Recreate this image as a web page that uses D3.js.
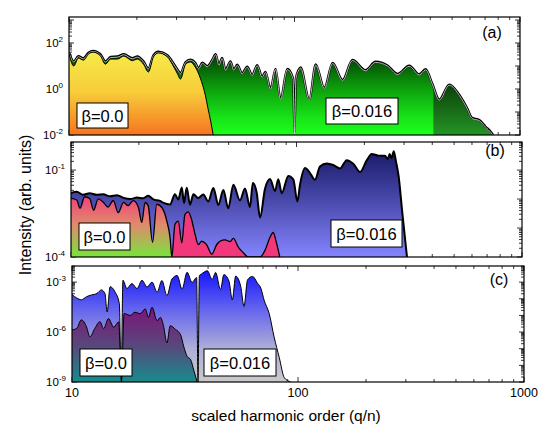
<!DOCTYPE html>
<html>
<head>
<meta charset="utf-8">
<script src="https://cdnjs.cloudflare.com/ajax/libs/d3/7.8.5/d3.min.js"></script>
<style>
body { margin: 0; background: #fff; }
text { font-family: Arial, "Liberation Sans", sans-serif; fill: #000; }
</style>
</head>
<body>
<svg width="544" height="426"></svg>
<script>
// spectra: [harmonic order, intensity]
var aBeta0 = [[10.0,33],[10.5,10],[11.0,22],[11.6,18],[12.2,33],[12.8,40],[13.8,27],[14.5,12],[15.3,20],[16.4,20],[17.5,27],[19.1,17],[20.1,20],[21.4,12],[22.5,5.5],[23.7,25],[24.9,37],[27.3,25],[28.7,12],[30.3,4.5],[31.2,2.7],[32.9,12],[34.5,15],[36.3,9],[38.2,3],[40.3,0.5],[41.3,0.15],[42.5,0.04],[43.6,0.01]];
var aBeta016 = [[10.0,40],[10.5,16],[11.0,27],[11.6,22],[12.2,38],[12.8,46],[13.8,32],[14.5,16],[15.3,25],[16.4,26],[17.5,33],[19.1,22],[20.1,26],[21.4,16],[22.5,8],[23.7,30],[24.9,42],[27.3,30],[28.7,16],[30.3,7],[31.2,5],[32.9,15],[34.5,19],[36.3,14],[37.6,8],[39.0,14],[41.0,10],[43.2,19],[44.7,33],[46.2,11.6],[47.8,22.5],[49.4,7],[52.0,16],[53.8,6.9],[55.7,11.4],[58.6,4.9],[61.7,9.4],[64.9,4.1],[68.3,11],[71.9,3.4],[74.3,5.6],[78.3,1.04],[82.4,7.6],[86.7,0.37],[92.9,7.5],[98.5,3],[100,0.012],[101.5,3],[104,6.5],[106.4,8.7],[116.3,0.36],[124.2,11.8],[135.6,1.14],[147.6,13.8],[163.4,2.5],[180.7,18.6],[206.5,6.7],[228.6,15.4],[258.4,10.7],[286.1,4.6],[322.7,10.4],[357.4,4.4],[381.2,7.3],[409.6,1.6],[438.5,0.35],[485.8,1.57],[537.6,0.57],[582.6,0.15],[612.6,0.056],[660,0.045],[704,0.023],[741.5,0.014],[760,0.01]];
var aCut = 413;

var bBeta0 = [[10.0,0.0105],[10.6,0.0093],[10.96,0.0048],[11.5,0.012],[12.1,0.0105],[12.6,0.0041],[13.2,0.0102],[13.9,0.0078],[14.6,0.0053],[15.4,0.0089],[16.2,0.0034],[17.1,0.0077],[17.9,0.0059],[18.9,0.0088],[19.9,0.0052],[20.6,0.00156],[21.3,0.0076],[22.0,0.0058],[23.0,0.00032],[24.0,0.0066],[25.3,0.0051],[26.6,0.00175],[27.5,0.00046],[28.0,0.0001],[28.9,0.00133],[29.9,0.00174],[31.0,0.00031],[32.0,0.0029],[33.1,0.0036],[34.3,0.0019],[35.5,0.0006],[36.7,0.00027],[38.0,0.00035],[39.9,0.00027],[42.1,0.000125],[44.3,0.00027],[45.8,0.00035],[48.2,0.00039],[50.8,0.00034],[52.5,0.00044],[55.2,0.00022],[58.1,0.00014],[61.1,0.0001],[68.9,0.0001],[72.5,0.00017],[76.3,0.00048],[78.8,0.0007],[81.4,0.00032],[84.3,0.0001]];
var bBeta016 = [[10.0,0.016],[10.6,0.018],[11.3,0.014],[12.1,0.016],[13.0,0.014],[13.9,0.0145],[14.9,0.0125],[16.0,0.0135],[17.1,0.011],[18.3,0.01],[19.6,0.0112],[20.9,0.0107],[22.0,0.013],[23.2,0.0097],[24.8,0.0086],[25.6,0.0075],[27.5,0.0065],[28.9,0.0146],[29.9,0.0096],[31.0,0.025],[31.7,0.0074],[32.6,0.0245],[33.7,0.0064],[34.9,0.0145],[36.7,0.0108],[38.6,0.0144],[40.6,0.0083],[42.8,0.024],[45.0,0.0063],[47.4,0.0205],[49.8,0.0048],[52.5,0.031],[56.1,0.009],[59.1,0.023],[62.2,0.0053],[64.0,0.036],[66.6,0.0167],[68.9,0.0023],[72.5,0.0225],[76.3,0.049],[80.3,0.019],[83.0,0.048],[86.0,0.016],[92.0,0.063],[96.8,0.048],[100.9,0.0083],[103.7,0.032],[109.1,0.117],[114.8,0.079],[120.8,0.046],[127.1,0.132],[136.1,0.17],[145.6,0.15],[156.0,0.113],[167.0,0.22],[178.6,0.165],[191.3,0.086],[204.8,0.215],[215.5,0.36],[230.6,0.315],[246.8,0.31],[254,0.24],[259,0.36],[264,0.26],[270,0.45],[276,0.2],[284,0.058],[294,0.0039],[303.6,0.00036],[309,0.0001]];
var bCut = 28;

var cBeta0 = [[10.0,1.35e-6],[10.5,1.7e-6],[11.0,5.4e-6],[11.6,2.0e-6],[12.0,5.2e-7],[12.6,1.6e-6],[13.3,4.2e-6],[13.8,1.6e-6],[14.5,6.4e-6],[15.3,1.95e-6],[16.1,4.1e-6],[16.55,1e-9],[17.0,1.3e-5],[18.1,1.0e-5],[19.0,1.55e-5],[20.0,1.26e-5],[21.1,2.45e-5],[21.8,7.7e-6],[22.6,3.1e-5],[23.8,4.8e-6],[24.6,7.6e-6],[25.4,2.4e-6],[26.3,2.2e-7],[27.2,2.4e-6],[28.7,1.45e-6],[30.2,7.2e-7],[31.2,1.4e-7],[32.3,3.5e-8],[33.5,2.2e-8],[34.6,5e-9],[35.8,1e-9]];
var cBeta016 = [[10.0,1.8e-4],[10.5,1.1e-4],[11.0,8.7e-5],[11.6,1.33e-4],[12.2,1.7e-4],[12.9,2.1e-4],[13.5,3.4e-4],[14.0,2e-4],[14.3,1.6e-5],[14.75,5.3e-4],[15.5,2.6e-4],[16.2,5e-5],[16.5,1e-9],[16.8,1.3e-3],[17.5,4.1e-4],[18.4,8.2e-4],[19.4,4.1e-4],[20.4,1.3e-3],[21.5,5.1e-4],[22.6,1.0e-3],[23.8,2.5e-4],[25.0,1.26e-3],[26.3,1.55e-4],[27.7,1.55e-3],[29.2,2.5e-3],[30.7,3.8e-4],[32.3,3.9e-3],[34.0,9.5e-4],[35.6,1.9e-3],[36.1,1e-9],[36.6,2.5e-3],[37.3,3e-3],[39.7,4.8e-3],[41.7,1.45e-3],[43.2,3.8e-3],[45.4,3.6e-4],[47.0,2.85e-3],[49.5,1.15e-3],[51.2,8.6e-5],[53.0,2.3e-3],[55.8,5.5e-4],[57.7,3.5e-5],[59.8,1.37e-3],[62.9,2.2e-3],[66.2,8.6e-4],[68.5,4.3e-4],[70.8,8.2e-5],[74.6,1.26e-5],[78.4,5e-7],[82.6,3e-8],[87.0,1.8e-9],[92.9,1e-9]];

// tick labels
var aExp = [2, 0, -2];
var bExp = [-1, -4];
var cExp = [-3, -6, -9];
var xLabels = [10, 100, 1000];
var betaLabels = ["\u03b2=0.0", "\u03b2=0.016"];
var panelNames = ["(a)", "(b)", "(c)"];

var svg = d3.select("svg"),
    defs = svg.append("defs");

function grad(id, y1, y2, stops) {
  var lg = defs.append("linearGradient").attr("id", id)
      .attr("gradientUnits", "userSpaceOnUse")
      .attr("x1", 0).attr("x2", 0).attr("y1", y1).attr("y2", y2);
  stops.forEach(function(s) {
    lg.append("stop").attr("offset", s[0]).attr("stop-color", s[1]);
  });
}
grad("gYellow", 50, 135, [[0, "#f6ec48"], [0.5, "#f7cc3a"], [1, "#f67420"]]);
grad("gGreen", 48, 135, [[0, "#002800"], [0.45, "#0c9c0c"], [0.8, "#18e418"], [1, "#1cff1c"]]);
grad("gDarkGreen", 75, 132, [[0, "#053005"], [1, "#239023"]]);
grad("gBlue", 148, 257, [[0, "#161668"], [0.45, "#4646a6"], [1, "#8484ff"]]);
grad("gPinkGreen", 192, 257, [[0, "#f2387a"], [0.5, "#e08a6c"], [1, "#78e43c"]]);
grad("gBlueGray", 270, 382, [[0, "#1414ff"], [0.35, "#6464ee"], [0.7, "#aeaed8"], [1, "#cacaca"]]);
grad("gPurple", 310, 382, [[0, "#7a1878"], [0.5, "#58487c"], [1, "#168c8c"]]);

var panels = [
  {id: "a", left: 69, right: 520, top: 17, bottom: 135, ydom: [0.01, 1350], exps: aExp,
   name: panelNames[0], nx: 492, ny: 38,
   boxes: [[77, 103, 51, 25], [326, 98, 72, 26]]},
  {id: "b", left: 71, right: 522, top: 142, bottom: 257, ydom: [1e-4, 0.93], exps: bExp,
   name: panelNames[1], nx: 495, ny: 156,
   boxes: [[79, 223, 51, 27], [331, 220, 71, 27]]},
  {id: "c", left: 72, right: 524, top: 266, bottom: 382, ydom: [1e-9, 0.0093], exps: cExp,
   name: panelNames[2], nx: 499, ny: 285,
   boxes: [[80, 349, 52, 27], [204, 349, 72, 27]]}
];

function isMajor(v) {
  var l = Math.log10(v);
  return Math.abs(l - Math.round(l)) < 1e-6;
}

panels.forEach(function(p) {
  var x = d3.scaleLog().domain([10, 1000]).range([p.left, p.right]);
  var y = d3.scaleLog().domain(p.ydom).range([p.bottom, p.top]);
  p.x = x; p.y = y;

  // inward ticks on all four sides
  var tg = svg.append("g").attr("stroke", "#000").attr("stroke-width", 0.8);
  y.ticks().forEach(function(v) {
    if (v < p.ydom[0] || v > p.ydom[1]) return;
    var len = isMajor(v) ? 5 : 3, yy = y(v);
    tg.append("line").attr("x1", p.left).attr("x2", p.left + len).attr("y1", yy).attr("y2", yy);
    tg.append("line").attr("x1", p.right - len).attr("x2", p.right).attr("y1", yy).attr("y2", yy);
  });
  x.ticks().forEach(function(v) {
    var len = isMajor(v) ? 5 : 3, xx = x(v);
    tg.append("line").attr("x1", xx).attr("x2", xx).attr("y1", p.bottom).attr("y2", p.bottom - len);
    tg.append("line").attr("x1", xx).attr("x2", xx).attr("y1", p.top).attr("y2", p.top + len);
  });

  defs.append("clipPath").attr("id", "clip-" + p.id).append("rect")
      .attr("x", p.left).attr("y", p.top)
      .attr("width", p.right - p.left).attr("height", p.bottom - p.top);

  p.g = svg.append("g").attr("clip-path", "url(#clip-" + p.id + ")");
  p.area = d3.area().curve(d3.curveMonotoneX)
      .x(function(d) { return x(d[0]); })
      .y0(p.bottom)
      .y1(function(d) { return y(Math.max(d[1], p.ydom[0])); });
  p.line = d3.line().curve(d3.curveMonotoneX)
      .x(function(d) { return x(d[0]); })
      .y(function(d) { return y(Math.max(d[1], p.ydom[0])); });
});

function fill(p, data, color, cut) {
  var g = p.g;
  if (cut) {
    var cid = "cut-" + p.id;
    defs.append("clipPath").attr("id", cid).append("rect")
        .attr("x", p.left).attr("y", p.top)
        .attr("width", p.x(cut) - p.left).attr("height", p.bottom - p.top);
    g = p.g.append("g").attr("clip-path", "url(#" + cid + ")");
  }
  g.append("path").datum(data).attr("d", p.area).attr("fill", color);
}
function stroke(p, data, color, w, dy) {
  p.g.append("path").datum(data).attr("d", p.line)
      .attr("fill", "none").attr("stroke", color).attr("stroke-width", w)
      .attr("stroke-linejoin", "round")
      .attr("transform", "translate(0," + (dy || 0) + ")");
}

// (a)
var pa = panels[0];
fill(pa, aBeta016, "url(#gDarkGreen)");
fill(pa, aBeta016, "url(#gGreen)", aCut);
stroke(pa, aBeta016, "#000", 2.2);
stroke(pa, aBeta016, "#e8e8e8", 0.8, 0.7);
fill(pa, aBeta0, "url(#gYellow)");
stroke(pa, aBeta0, "#000", 1);

// (b)
var pb = panels[1];
fill(pb, bBeta016, "url(#gBlue)");
stroke(pb, bBeta016, "#000", 2);
fill(pb, bBeta0, "#f0387a");
fill(pb, bBeta0, "url(#gPinkGreen)", bCut);
stroke(pb, bBeta0, "#000", 1.3);

// (c)
var pc = panels[2];
fill(pc, cBeta016, "url(#gBlueGray)");
stroke(pc, cBeta016, "#000", 1);
fill(pc, cBeta0, "url(#gPurple)");
stroke(pc, cBeta0, "#000", 1);

panels.forEach(function(p) {
  svg.append("rect")
      .attr("x", p.left).attr("y", p.top)
      .attr("width", p.right - p.left).attr("height", p.bottom - p.top)
      .attr("fill", "none").attr("stroke", "#000").attr("stroke-width", 1.2);

  p.exps.forEach(function(e) {
    var t = svg.append("text")
        .attr("x", p.left - 6).attr("y", p.y(Math.pow(10, e)) + 4)
        .attr("text-anchor", "end").attr("font-size", 11.5);
    t.append("tspan").text("10");
    t.append("tspan").attr("dy", -5).attr("font-size", 8).text(e);
  });

  p.boxes.forEach(function(b, i) {
    svg.append("rect").attr("x", b[0]).attr("y", b[1]).attr("width", b[2]).attr("height", b[3])
        .attr("fill", "#fff").attr("stroke", "#000").attr("stroke-width", 1);
    svg.append("text").attr("x", b[0] + b[2] / 2).attr("y", b[1] + b[3] / 2 + 6)
        .attr("text-anchor", "middle").attr("font-size", 16.5).text(betaLabels[i]);
  });

  svg.append("text").attr("x", p.nx).attr("y", p.ny)
      .attr("text-anchor", "middle").attr("font-size", 16).text(p.name);
});

xLabels.forEach(function(v) {
  svg.append("text").attr("x", pc.x(v)).attr("y", pc.bottom + 15)
      .attr("text-anchor", "middle").attr("font-size", 12.5).text(v);
});

svg.append("text").attr("x", 286).attr("y", 421)
    .attr("text-anchor", "middle").attr("font-size", 15.5)
    .text("scaled harmonic order (q/n)");

svg.append("text").attr("transform", "translate(31,205) rotate(-90)")
    .attr("text-anchor", "middle").attr("font-size", 16)
    .text("Intensity (arb. units)");
</script>
</body>
</html>
